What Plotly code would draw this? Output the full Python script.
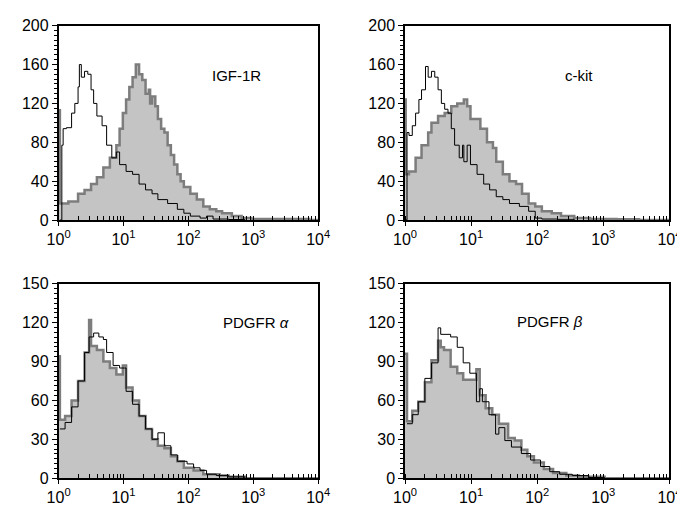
import plotly.graph_objects as go
from plotly.subplots import make_subplots

igf_ctrl_dec = [0.02, 0.05, 0.07, 0.12, 0.20, 0.25, 0.30, 0.32, 0.35, 0.40, 0.45, 0.50, 0.54, 0.59,
                0.67, 0.74, 0.82, 0.89, 0.94, 1.04, 1.14, 1.24, 1.34, 1.44, 1.53, 1.68, 1.83, 1.93,
                2.03, 2.18, 2.28, 2.38, 2.62, 2.87]
igf_ctrl_cnt = [0, 77, 94, 95, 110, 120, 137, 160, 147, 153, 150, 134, 120, 107,
                97, 77, 64, 70, 57, 50, 47, 37, 31, 27, 21, 17, 11, 7,
                4, 2, 4, 1, 0.5, 0]
igf_dec = [0.0, 0.02, 0.15, 0.30, 0.40, 0.50, 0.59, 0.69, 0.79, 0.89, 0.94, 0.99, 1.04, 1.09,
           1.14, 1.19, 1.24, 1.29, 1.34, 1.39, 1.41, 1.44, 1.49, 1.53, 1.58, 1.63, 1.68, 1.73,
           1.78, 1.83, 1.88, 1.93, 2.03, 2.13, 2.23, 2.33, 2.43, 2.52, 2.67, 2.82, 2.97, 3.37,
           3.86, 4.0]
igf_cnt = [113, 17, 19, 27, 31, 37, 44, 54, 64, 77, 94, 110, 124, 137,
           147, 160, 150, 144, 130, 134, 120, 127, 117, 104, 94, 90, 77, 67,
           57, 47, 40, 34, 27, 21, 14, 11, 9, 7, 4, 2, 1, 1,
           0, 0]

kit_ctrl_dec = [0.01, 0.03, 0.06, 0.11, 0.16, 0.21, 0.25, 0.31, 0.35, 0.40, 0.45, 0.50, 0.55, 0.60,
                0.65, 0.70, 0.75, 0.82, 0.87, 0.89, 0.94, 0.99, 1.09, 1.19, 1.28, 1.38, 1.48, 1.58,
                1.73, 1.87, 1.97, 2.07, 2.31, 2.56]
kit_ctrl_cnt = [0, 90, 87, 97, 110, 124, 134, 158, 147, 153, 147, 134, 120, 114,
                110, 94, 77, 64, 77, 60, 77, 57, 47, 37, 31, 24, 21, 17,
                14, 9, 2, 1, 0.7, 0]
kit_dec = [0.0, 0.01, 0.06, 0.16, 0.25, 0.35, 0.40, 0.50, 0.60, 0.70, 0.79, 0.89, 0.94, 0.99,
           1.09, 1.14, 1.24, 1.33, 1.38, 1.48, 1.58, 1.68, 1.77, 1.87, 1.97, 2.07, 2.22, 2.36,
           2.56, 2.80, 3.20, 3.54, 4.0]
kit_cnt = [124, 47, 50, 64, 77, 90, 100, 107, 110, 117, 120, 124, 117, 104,
           104, 94, 80, 74, 60, 47, 40, 37, 27, 17, 14, 9, 7, 4,
           2, 1, 0.7, 0, 0]

pa_ctrl_dec = [0.02, 0.10, 0.20, 0.30, 0.40, 0.47, 0.54, 0.62, 0.69, 0.74, 0.84, 0.94, 1.04, 1.14,
               1.24, 1.34, 1.44, 1.53, 1.63, 1.73, 1.83, 1.98, 2.08, 2.18, 2.28, 2.43, 2.62, 2.87]
pa_ctrl_cnt = [38, 43, 55, 75, 97, 109, 112, 109, 107, 97, 87, 85, 67, 57,
               48, 38, 30, 35, 25, 18, 13, 11, 8, 6, 3, 2, 1, 0]
pa_dec = [0.0, 0.02, 0.10, 0.20, 0.30, 0.40, 0.47, 0.50, 0.59, 0.69, 0.79, 0.89, 0.99, 1.04,
          1.14, 1.24, 1.34, 1.44, 1.53, 1.63, 1.73, 1.83, 1.93, 2.08, 2.23, 2.48, 2.62, 2.87, 4.0]
pa_cnt = [94, 45, 48, 60, 75, 97, 122, 102, 99, 90, 85, 80, 87, 70,
          60, 48, 38, 30, 25, 23, 17, 13, 8, 6, 3, 2, 1, 0, 0]

pb_ctrl_dec = [0.03, 0.11, 0.20, 0.30, 0.40, 0.50, 0.54, 0.59, 0.69, 0.79, 0.88, 0.98, 1.08, 1.13,
               1.17, 1.27, 1.37, 1.42, 1.51, 1.61, 1.76, 1.90, 2.05, 2.19, 2.34, 2.53, 2.78, 3.02]
pb_ctrl_cnt = [42, 49, 59, 77, 89, 116, 111, 111, 109, 101, 89, 81, 59, 69,
               59, 49, 34, 39, 29, 24, 19, 14, 9, 5, 3, 2, 0.5, 0]
pb_dec = [0.0, 0.03, 0.11, 0.20, 0.30, 0.40, 0.50, 0.54, 0.59, 0.69, 0.79, 0.88, 0.98, 1.08,
          1.13, 1.22, 1.32, 1.42, 1.51, 1.56, 1.66, 1.76, 1.85, 1.95, 2.10, 2.24, 2.44, 2.63,
          3.02, 4.0]
pb_cnt = [96, 44, 52, 59, 74, 91, 106, 101, 99, 86, 81, 76, 76, 84,
          64, 54, 49, 42, 42, 31, 29, 22, 17, 12, 7, 4, 2, 1,
          0, 0]

panels = [
    ("IGF-1R", igf_dec, igf_cnt, igf_ctrl_dec, igf_ctrl_cnt, 1, 1, 200, 40),
    ("c-kit", kit_dec, kit_cnt, kit_ctrl_dec, kit_ctrl_cnt, 1, 2, 200, 40),
    ("PDGFR <i>α</i>", pa_dec, pa_cnt, pa_ctrl_dec, pa_ctrl_cnt, 2, 1, 150, 30),
    ("PDGFR <i>β</i>", pb_dec, pb_cnt, pb_ctrl_dec, pb_ctrl_cnt, 2, 2, 150, 30),
]

W, H = 685, 513
xdom = {1: [40 / W, 309 / W], 2: [399 / W, 673 / W]}
ydom = {1: [1 - 211 / H, 1 - 10 / H], 2: [1 - 478 / H, 1 - 277 / H]}
label_pos = {(1, 1): (197, 51), (1, 2): (596, 51), (2, 1): (208, 317), (2, 2): (585, 316)}

fig = make_subplots(rows=2, cols=2)
font = dict(family="Liberation Sans, Arial, sans-serif", size=16, color="black")

for name, dec, cnt, cdec, ccnt, r, c, ymax, ydt in panels:
    fig.add_trace(go.Scatter(x=[10 ** d for d in dec], y=cnt, mode="lines", line_shape="hv",
                             fill="tozeroy", fillcolor="#c4c4c4",
                             line=dict(color="#7d7d7d", width=2.5)), row=r, col=c)
    fig.add_trace(go.Scatter(x=[10 ** d for d in cdec], y=ccnt, mode="lines", line_shape="hv",
                             line=dict(color="black", width=1)), row=r, col=c)
    fig.update_xaxes(type="log", range=[0, 4], domain=xdom[c],
                     tickvals=[1, 10, 100, 1000, 10000],
                     ticktext=["10<sup>%d</sup>" % k for k in range(5)],
                     ticks="outside", ticklen=4, tickcolor="black",
                     minor=dict(ticks="inside", ticklen=4, tickcolor="black", dtick="D1"),
                     showline=True, linecolor="black", linewidth=1.5, mirror=True,
                     showgrid=False, zeroline=False, tickfont=font, row=r, col=c)
    fig.update_yaxes(range=[0, ymax], dtick=ydt, domain=ydom[r],
                     ticks="outside", ticklen=5, tickcolor="black",
                     minor=dict(ticks="outside", ticklen=3, tickcolor="black", dtick=ydt / 8),
                     showline=True, linecolor="black", linewidth=1.5, mirror=True,
                     showgrid=False, zeroline=False, tickfont=font, row=r, col=c)
    lx, ly = label_pos[(r, c)]
    fig.add_annotation(x=lx / W, y=1 - ly / H, xref="paper", yref="paper", text=name,
                       showarrow=False, font=dict(family="Liberation Sans, Arial, sans-serif",
                                                  size=15, color="black"))

fig.update_layout(width=W, height=H, margin=dict(l=0, r=0, t=0, b=0),
                  paper_bgcolor="white", plot_bgcolor="white", showlegend=False,
                  font=font)
fig.write_html("out.html")
